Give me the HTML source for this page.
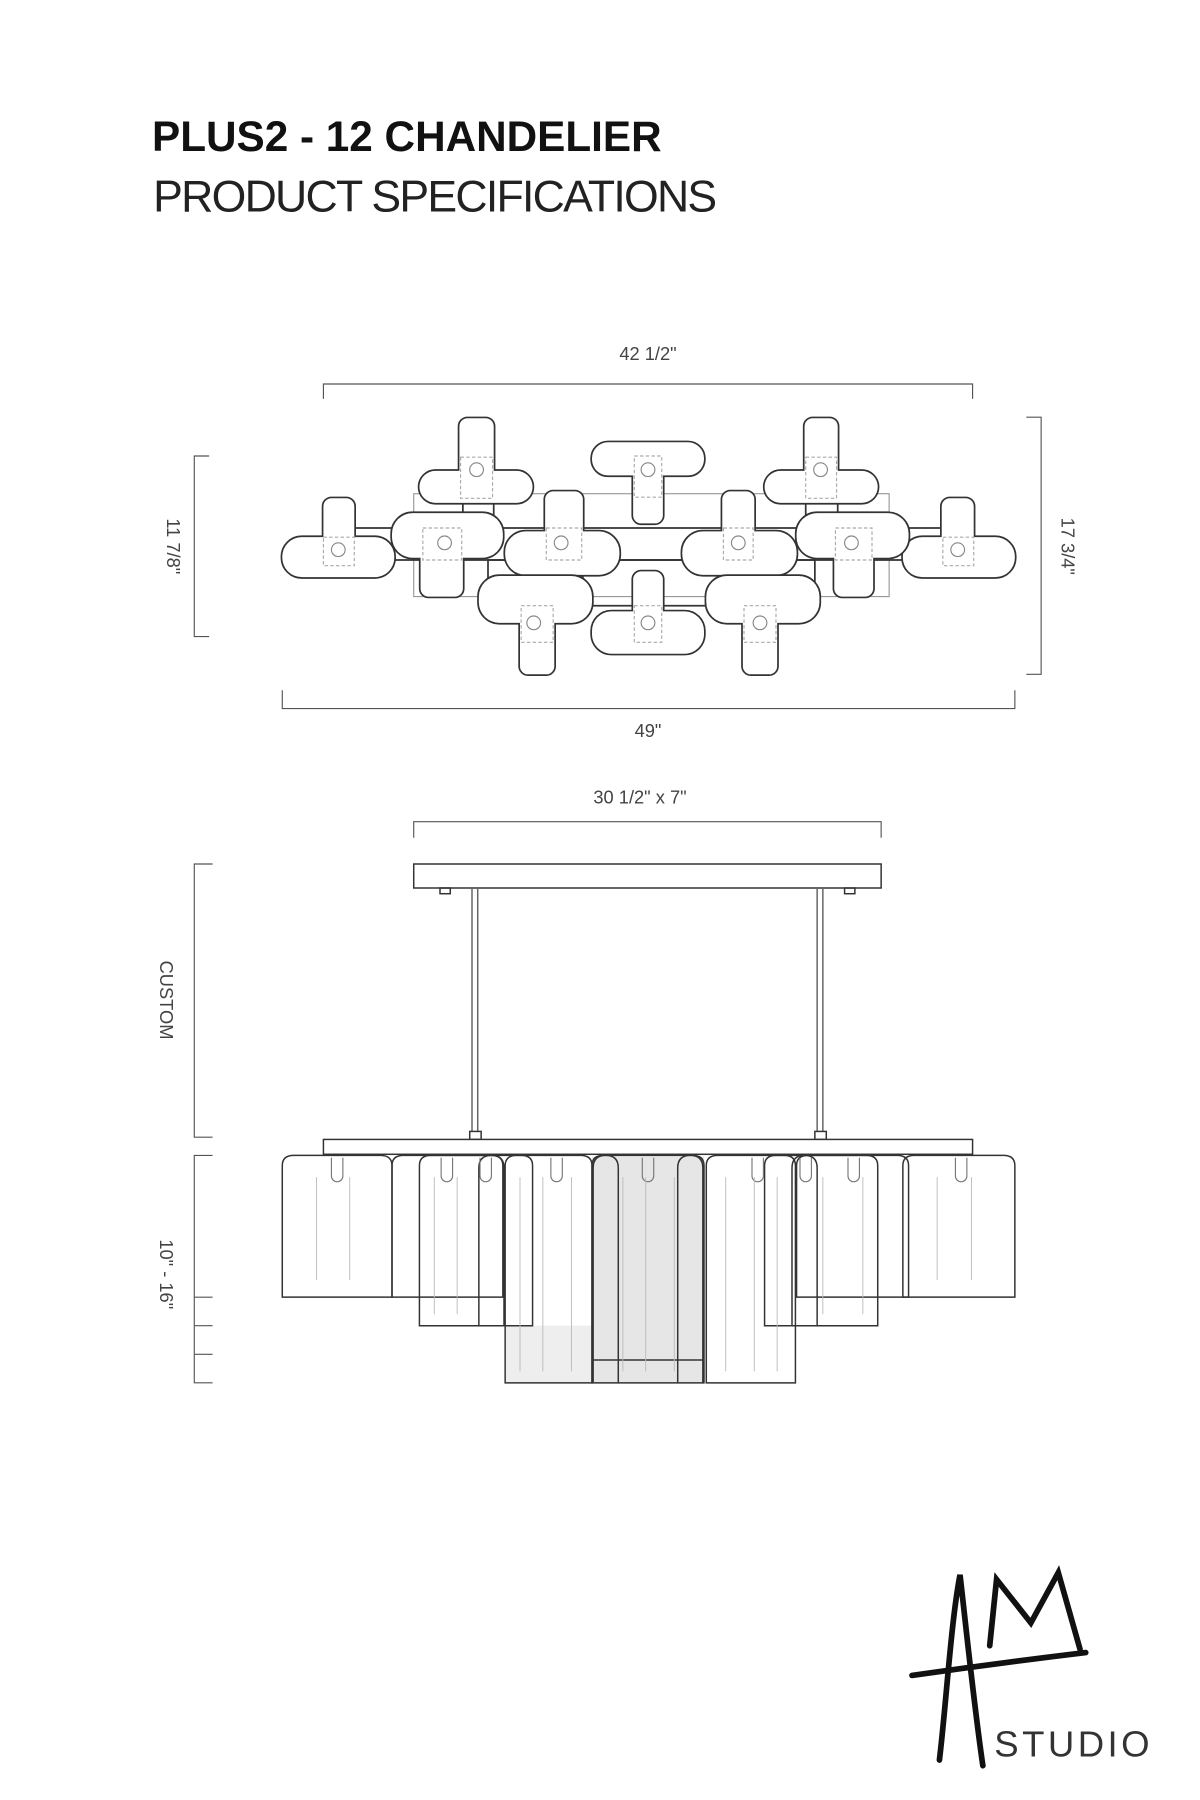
<!DOCTYPE html>
<html><head><meta charset="utf-8"><style>
html,body{margin:0;padding:0;background:#fff;}
svg{display:block;}
text{font-family:"Liberation Sans",sans-serif;}
</style></head><body>
<svg width="1200" height="1800" viewBox="0 0 1050 1575" xmlns="http://www.w3.org/2000/svg">
<rect width="1050" height="1575" fill="#fff"/>
<text x="133" y="132" font-size="37" font-weight="bold" fill="#111" letter-spacing="0">PLUS2 - 12  CHANDELIER</text>
<text x="134" y="185" font-size="39" fill="#222" letter-spacing="-1.5">PRODUCT SPECIFICATIONS</text>

<g stroke="#555" stroke-width="1" fill="none">
<path d="M283 349V336H851V349"/>
<path d="M183 399H170V557H183"/>
<path d="M898 365H911V590H898"/>
<path d="M247 604V620H888V604"/>
<path d="M362 733V719H771V733"/>
<path d="M186 756H170V995H186"/>
<path d="M186 1011H170V1210H186M170 1135H186M170 1160H186M170 1185H186"/>
</g>
<g font-size="16" fill="#444">
<text x="567" y="315" text-anchor="middle">42 1/2"</text>
<text x="567" y="645" text-anchor="middle">49"</text>
<text x="560" y="703" text-anchor="middle">30 1/2" x 7"</text>
<text transform="translate(146,478) rotate(90)" text-anchor="middle">11 7/8"</text>
<text transform="translate(929,478) rotate(90)" text-anchor="middle">17 3/4"</text>
<text transform="translate(140,875) rotate(90)" text-anchor="middle">CUSTOM</text>
<text transform="translate(140,1115) rotate(90)" text-anchor="middle">10" - 16"</text>
</g>

<g fill="none">
<rect x="362" y="432" width="416" height="90" stroke="#999" stroke-width="1"/>
<path d="M310 462H825M345 490H790" stroke="#333" stroke-width="1.5"/>
<rect x="427" y="490" width="286" height="40" stroke="#333" stroke-width="1.5"/>
<path d="M405 440V470M432 440V470M705 440V470M733 440V470M477 503V520M510 503V520M632 503V520M660 503V520" stroke="#333" stroke-width="1.5"/>
</g>

<g stroke-linejoin="round">
<g stroke="#333" stroke-width="3" fill="#fff">
<rect x="247" y="470" width="98" height="35" rx="17"/><rect x="283" y="436" width="27" height="50" rx="7"/>
</g><g fill="#fff"><rect x="247" y="470" width="98" height="35" rx="17"/><rect x="283" y="436" width="27" height="50" rx="7"/></g>

<g stroke="#333" stroke-width="3" fill="#fff">
<rect x="367" y="412" width="99" height="28" rx="14"/><rect x="402" y="366" width="30" height="60" rx="7"/>
</g><g fill="#fff"><rect x="367" y="412" width="99" height="28" rx="14"/><rect x="402" y="366" width="30" height="60" rx="7"/></g>

<g stroke="#333" stroke-width="3" fill="#fff">
<rect x="518" y="387" width="98" height="29" rx="14"/><rect x="554" y="400" width="26" height="58" rx="7"/>
</g><g fill="#fff"><rect x="518" y="387" width="98" height="29" rx="14"/><rect x="554" y="400" width="26" height="58" rx="7"/></g>

<g stroke="#333" stroke-width="3" fill="#fff">
<rect x="669" y="412" width="99" height="28" rx="14"/><rect x="704" y="366" width="29" height="60" rx="7"/>
</g><g fill="#fff"><rect x="669" y="412" width="99" height="28" rx="14"/><rect x="704" y="366" width="29" height="60" rx="7"/></g>

<g stroke="#333" stroke-width="3" fill="#fff">
<rect x="790" y="470" width="98" height="35" rx="17"/><rect x="824" y="436" width="28" height="50" rx="7"/>
</g><g fill="#fff"><rect x="790" y="470" width="98" height="35" rx="17"/><rect x="824" y="436" width="28" height="50" rx="7"/></g>

<g stroke="#333" stroke-width="3" fill="#fff">
<rect x="343" y="449" width="97" height="39" rx="18"/><rect x="368" y="460" width="37" height="62" rx="7"/>
</g><g fill="#fff"><rect x="343" y="449" width="97" height="39" rx="18"/><rect x="368" y="460" width="37" height="62" rx="7"/></g>

<g stroke="#333" stroke-width="3" fill="#fff">
<rect x="442" y="465" width="100" height="38" rx="18"/><rect x="477" y="430" width="33" height="50" rx="7"/>
</g><g fill="#fff"><rect x="442" y="465" width="100" height="38" rx="18"/><rect x="477" y="430" width="33" height="50" rx="7"/></g>

<g stroke="#333" stroke-width="3" fill="#fff">
<rect x="597" y="465" width="100" height="38" rx="18"/><rect x="632" y="430" width="28" height="50" rx="7"/>
</g><g fill="#fff"><rect x="597" y="465" width="100" height="38" rx="18"/><rect x="632" y="430" width="28" height="50" rx="7"/></g>

<g stroke="#333" stroke-width="3" fill="#fff">
<rect x="697" y="449" width="98" height="39" rx="18"/><rect x="730" y="460" width="34" height="62" rx="7"/>
</g><g fill="#fff"><rect x="697" y="449" width="98" height="39" rx="18"/><rect x="730" y="460" width="34" height="62" rx="7"/></g>

<g stroke="#333" stroke-width="3" fill="#fff">
<rect x="419" y="504" width="99" height="41" rx="18"/><rect x="455" y="520" width="30" height="70" rx="7"/>
</g><g fill="#fff"><rect x="419" y="504" width="99" height="41" rx="18"/><rect x="455" y="520" width="30" height="70" rx="7"/></g>

<g stroke="#333" stroke-width="3" fill="#fff">
<rect x="518" y="535" width="98" height="37" rx="17"/><rect x="554" y="500" width="26" height="50" rx="7"/>
</g><g fill="#fff"><rect x="518" y="535" width="98" height="37" rx="17"/><rect x="554" y="500" width="26" height="50" rx="7"/></g>

<g stroke="#333" stroke-width="3" fill="#fff">
<rect x="618" y="504" width="99" height="41" rx="18"/><rect x="650" y="520" width="30" height="70" rx="7"/>
</g><g fill="#fff"><rect x="618" y="504" width="99" height="41" rx="18"/><rect x="650" y="520" width="30" height="70" rx="7"/></g>
</g>

<g fill="none" stroke="#888" stroke-width="1">
<circle cx="296" cy="481" r="6"/><circle cx="417" cy="411" r="6"/><circle cx="567" cy="411" r="6"/><circle cx="718" cy="411" r="6"/><circle cx="838" cy="481" r="6"/>
<circle cx="389" cy="475" r="6"/><circle cx="491" cy="475" r="6"/><circle cx="646" cy="475" r="6"/><circle cx="745" cy="475" r="6"/>
<circle cx="467" cy="545" r="6"/><circle cx="567" cy="545" r="6"/><circle cx="665" cy="545" r="6"/>
</g>
<g fill="none" stroke="#aaa" stroke-width="1" stroke-dasharray="3,2">
<rect x="283" y="470" width="27" height="25"/><rect x="403" y="400" width="28" height="36"/><rect x="555" y="399" width="24" height="36"/><rect x="705" y="400" width="27" height="36"/><rect x="825" y="470" width="27" height="25"/>
<rect x="370" y="462" width="34" height="28"/><rect x="478" y="462" width="31" height="28"/><rect x="633" y="462" width="26" height="28"/><rect x="731" y="462" width="32" height="28"/>
<rect x="456" y="530" width="28" height="32"/><rect x="555" y="530" width="24" height="32"/><rect x="651" y="530" width="28" height="32"/>
</g>

<g stroke="#333" stroke-width="1.3" fill="none">
<rect x="362" y="756" width="409" height="21"/>
<rect x="385" y="777" width="9" height="5"/><rect x="739" y="777" width="9" height="5"/>
<path d="M413 777V990M418 777V990M715 777V990M720 777V990" stroke="#666"/>
<rect x="411" y="990" width="10" height="7"/><rect x="713" y="990" width="10" height="7"/>
</g>
<rect x="442" y="1160" width="76" height="50" fill="#eee"/>
<rect x="518" y="1012" width="98" height="198" fill="#e6e6e6"/>
<g stroke="#333" stroke-width="1.3" fill="none">
<path d="M442 1210V1020q0-9 10-9H508q10 0 10 9V1210Z"/>
<path d="M618 1210V1020q0-9 10-9H686q10 0 10 9V1210Z"/>
<path d="M367 1160V1020q0-9 10-9H456q10 0 10 9V1160Z"/>
<path d="M669 1160V1020q0-9 10-9H758q10 0 10 9V1160Z"/>
<path d="M518 1210V1020q0-9 10-9H606q10 0 10 9V1210Z"/>
<path d="M247 1135V1020q0-9 10-9H333q10 0 10 9V1135Z"/>
<path d="M343 1135V1020q0-9 10-9H430q10 0 10 9V1135Z"/>
<path d="M697 1135V1020q0-9 10-9H785q10 0 10 9V1135Z"/>
<path d="M790 1135V1020q0-9 10-9H878q10 0 10 9V1135Z"/>
<path d="M419 1160V1022q0-11 11-11q11 0 11 11V1160M519 1210V1022q0-11 11-11q11 0 11 11V1210M593 1210V1022q0-11 11-11q11 0 11 11V1210M693 1160V1022q0-11 11-11q11 0 11 11V1160"/>
<path d="M518 1190H616"/>
<rect x="283" y="997" width="568" height="13" fill="#fff"/>
</g>
<g stroke="#777" stroke-width="1" fill="none">
<path d="M290 1013v16a5 5 0 0 0 10 0v-16M386 1013v16a5 5 0 0 0 10 0v-16M420 1013v16a5 5 0 0 0 10 0v-16M482 1013v16a5 5 0 0 0 10 0v-16M562 1013v16a5 5 0 0 0 10 0v-16M658 1013v16a5 5 0 0 0 10 0v-16M742 1013v16a5 5 0 0 0 10 0v-16M700 1013v16a5 5 0 0 0 10 0v-16M836 1013v16a5 5 0 0 0 10 0v-16"/>
</g>
<g stroke="#bbb" stroke-width="0.8">
<path d="M277 1030V1120M306 1030V1120M380 1030V1150M400 1030V1150M455 1030V1200M475 1030V1200M500 1030V1200M545 1030V1200M565 1030V1200M590 1030V1200M635 1030V1200M660 1030V1200M680 1030V1200M720 1030V1150M755 1030V1150M820 1030V1120M850 1030V1120"/>
</g>

<g stroke="#111" stroke-width="5" fill="none" stroke-linecap="round">
<path d="M822 1540C828 1490 832 1420 840 1378C846 1430 852 1490 860 1545"/>
<path d="M798 1466C840 1460 900 1452 950 1446"/>
<path d="M866 1440L872 1382L902 1420L926 1376L945 1443"/>
</g>
<text x="870" y="1537" font-size="32" fill="#333" letter-spacing="3">STUDIO</text>
</svg>
</body></html>
